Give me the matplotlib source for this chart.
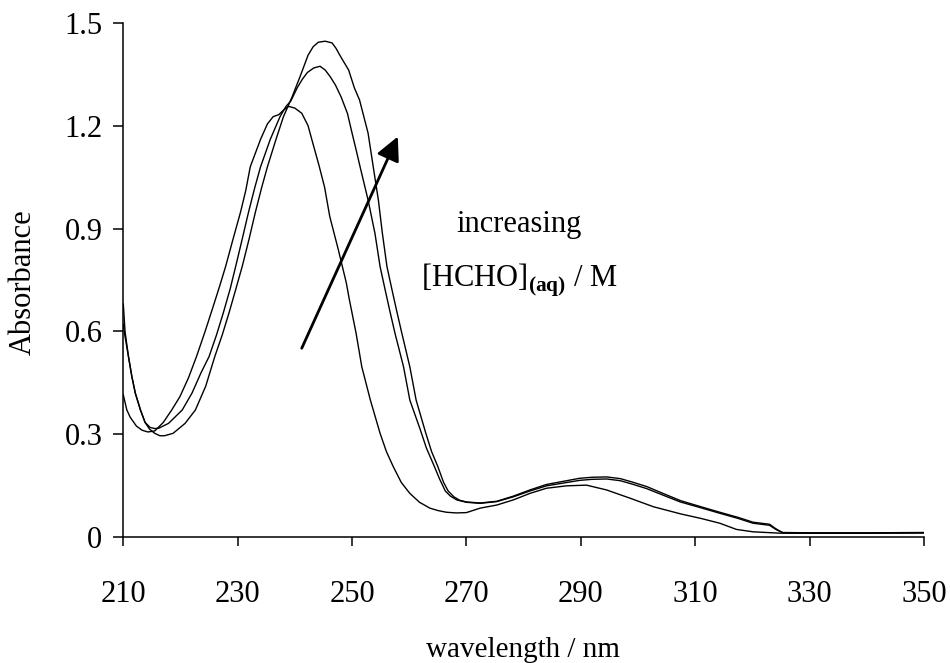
import matplotlib
matplotlib.use('Agg')
import matplotlib.pyplot as plt

# three spectra (nm, absorbance)
wl_a = [210.0, 210.6, 211.2, 212.3, 213.3, 214.3, 215.5, 217.0, 218.5, 219.9, 221.4, 222.8,
        224.3, 225.7, 226.9, 227.9, 229.2, 230.5, 231.4, 232.2, 234.0, 235.2, 236.2, 237.2,
        238.0, 238.9, 240.0, 241.2, 242.3, 243.2, 244.2, 245.2, 246.1, 247.6, 249.0, 249.5,
        250.1, 250.7, 251.7, 253.2, 254.9, 256.0, 257.2, 258.6, 260.1, 261.8, 263.6, 265.0,
        266.5, 268.2, 270.0, 272.4, 275.3, 278.2, 281.1, 284.0, 287.5, 291.0, 294.5, 298.6,
        302.7, 307.5, 311.0, 314.3, 317.2, 320.1, 324.8, 330.0, 340.0, 350.0]
abs_a = [0.415, 0.372, 0.350, 0.324, 0.312, 0.307, 0.310, 0.335, 0.372, 0.410, 0.465, 0.527,
         0.600, 0.672, 0.735, 0.790, 0.870, 0.948, 1.010, 1.080, 1.160, 1.205, 1.226, 1.232,
         1.245, 1.256, 1.251, 1.236, 1.200, 1.145, 1.085, 1.020, 0.935, 0.838, 0.741, 0.695,
         0.645, 0.595, 0.497, 0.400, 0.303, 0.250, 0.206, 0.160, 0.128, 0.102, 0.085, 0.078,
         0.073, 0.071, 0.072, 0.085, 0.094, 0.109, 0.128, 0.143, 0.150, 0.152, 0.138, 0.114,
         0.089, 0.068, 0.055, 0.041, 0.023, 0.016, 0.012, 0.012, 0.012, 0.013]

wl_b = [210.0, 210.3, 210.9, 211.5, 212.1, 213.0, 213.8, 214.7, 215.5, 216.2, 217.9, 220.3,
        222.0, 223.6, 225.0, 226.3, 227.5, 228.7, 229.8, 230.8, 231.9, 233.0, 234.0, 235.7,
        237.4, 238.4, 239.3, 240.4, 241.3, 242.2, 243.3, 244.4, 245.3, 246.2, 247.1, 248.1,
        249.2, 250.0, 250.7, 251.4, 252.8, 254.0, 254.9, 255.8, 256.6, 257.5, 259.0, 260.1,
        261.9, 263.0, 264.3, 265.3, 266.3, 267.2, 268.3, 270.0, 272.4, 275.3, 278.2, 281.1,
        284.0, 286.9, 289.8, 292.0, 294.5, 296.9, 299.0, 301.5, 304.5, 307.4, 311.0, 314.3,
        317.5, 320.1, 323.0, 324.2, 325.4, 330.0, 340.0, 350.0]
abs_b = [0.680, 0.600, 0.527, 0.468, 0.420, 0.371, 0.335, 0.320, 0.317, 0.318, 0.332, 0.371,
         0.420, 0.480, 0.527, 0.590, 0.655, 0.725, 0.800, 0.870, 0.948, 1.020, 1.080, 1.160,
         1.226, 1.255, 1.272, 1.310, 1.335, 1.355, 1.368, 1.373, 1.362, 1.342, 1.318, 1.283,
         1.235, 1.178, 1.130, 1.080, 0.983, 0.886, 0.789, 0.720, 0.660, 0.595, 0.497, 0.400,
         0.315, 0.260, 0.210, 0.170, 0.135, 0.120, 0.109, 0.102, 0.099, 0.104, 0.118, 0.135,
         0.150, 0.158, 0.166, 0.169, 0.170, 0.165, 0.155, 0.142, 0.122, 0.103, 0.086, 0.070,
         0.055, 0.041, 0.035, 0.022, 0.013, 0.012, 0.012, 0.013]

wl_c = [210.0, 210.3, 210.9, 211.5, 212.1, 213.0, 213.8, 214.6, 215.5, 216.4, 217.2, 218.7,
        220.8, 222.6, 224.4, 226.0, 227.3, 228.5, 229.7, 230.8, 232.0, 233.1, 234.2, 235.2,
        236.7, 238.0, 239.5, 241.0, 242.3, 243.2, 244.1, 245.3, 246.5, 247.2, 248.0, 249.4,
        250.4, 251.3, 252.8, 253.7, 254.6, 255.3, 256.1, 257.0, 257.8, 258.7, 260.1, 261.2,
        262.9, 263.9, 265.0, 266.0, 266.8, 267.8, 268.8, 270.0, 272.4, 275.3, 278.2, 281.1,
        284.0, 286.9, 289.8, 292.0, 294.5, 296.9, 299.0, 301.5, 304.5, 307.4, 311.0, 314.3,
        317.5, 320.1, 323.0, 324.0, 325.2, 330.0, 340.0, 350.0]
abs_c = [0.620, 0.585, 0.527, 0.468, 0.420, 0.371, 0.335, 0.315, 0.303, 0.296, 0.296, 0.303,
         0.332, 0.371, 0.440, 0.527, 0.590, 0.655, 0.725, 0.790, 0.870, 0.948, 1.020, 1.080,
         1.160, 1.226, 1.283, 1.347, 1.405, 1.430, 1.443, 1.446, 1.441, 1.425, 1.401, 1.362,
         1.310, 1.275, 1.178, 1.080, 0.983, 0.886, 0.789, 0.720, 0.660, 0.595, 0.497, 0.400,
         0.303, 0.250, 0.206, 0.160, 0.135, 0.118, 0.108, 0.103, 0.100, 0.105, 0.120, 0.138,
         0.154, 0.163, 0.172, 0.175, 0.176, 0.171, 0.161, 0.148, 0.127, 0.107, 0.089, 0.073,
         0.058, 0.044, 0.038, 0.026, 0.014, 0.013, 0.013, 0.014]

x_ticks = [210, 230, 250, 270, 290, 310, 330, 350]
y_ticks = [0, 0.3, 0.6, 0.9, 1.2, 1.5]
y_tick_labels = ['0', '0.3', '0.6', '0.9', '1.2', '1.5']

plt.rcParams['font.family'] = 'Liberation Serif'
plt.rcParams['mathtext.fontset'] = 'custom'
plt.rcParams['mathtext.rm'] = 'Liberation Serif'
plt.rcParams['mathtext.bf'] = 'Liberation Serif:bold'

fig = plt.figure(figsize=(9.5, 6.63), dpi=100)
ax = fig.add_axes([0.1298, 0.1896, 0.8428, 0.7762])

for wl, ab in [(wl_a, abs_a), (wl_b, abs_b), (wl_c, abs_c)]:
    ax.plot(wl, ab, color='black', linewidth=1.0)

ax.set_xlim(210, 350)
ax.set_ylim(0, 1.5)
ax.set_xticks(x_ticks)
ax.set_yticks(y_ticks)
ax.set_yticklabels(y_tick_labels)

ax.spines['top'].set_visible(False)
ax.spines['right'].set_visible(False)
for s in ['left', 'bottom']:
    ax.spines[s].set_linewidth(1.1)
ax.tick_params(axis='x', direction='out', length=6.5, width=1.1, pad=24, labelsize=22)
ax.tick_params(axis='y', direction='out', length=7, width=1.1, pad=8, labelsize=22)

fig.text(23 / 950, 1 - 282 / 663, 'Absorbance', rotation=90, ha='center', va='center', fontsize=22)
fig.text(523 / 950, 6 / 663, 'wavelength / nm', ha='center', va='baseline', fontsize=21)

# arrow + annotation
ax.annotate('', xy=(258.0, 1.168), xytext=(241.2, 0.551),
            arrowprops=dict(arrowstyle='-|>', lw=2.0, color='black',
                            mutation_scale=36, shrinkA=0, shrinkB=0))
ax.text(279.2, 0.891, 'increasing', ha='center', va='baseline', fontsize=22)
ax.text(279.2, 0.731, r'[HCHO]$_{\mathbf{(aq)}}$ / M', ha='center', va='baseline', fontsize=22)

fig.savefig('out.png', dpi=100)
